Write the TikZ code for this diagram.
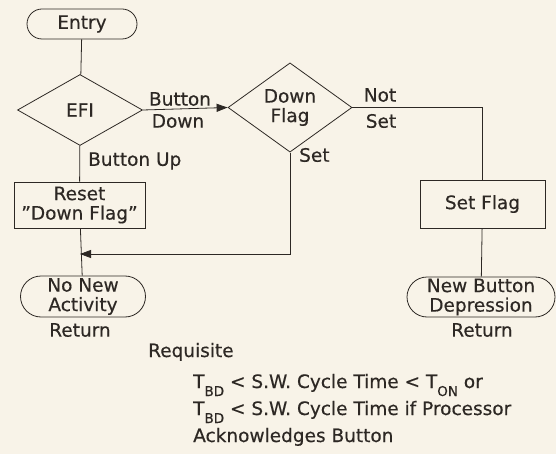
\documentclass[tikz,border=0pt]{standalone}
\usepackage{fontspec}
\setmainfont{DejaVu Sans}[FakeBold=0.4]
\usepackage{tikz}
\usetikzlibrary{positioning,arrows.meta,shapes.geometric,shapes.misc}
\definecolor{paper}{RGB}{248,243,232}
\definecolor{ink}{RGB}{45,40,36}
\newcommand{\bigtxt}{\fontsize{18.5}{19.5}\selectfont}
\newcommand{\tsub}[1]{T\raisebox{-8pt}{\fontsize{13.5}{13.5}\selectfont #1}}
\tikzset{
  term/.style={rounded rectangle, draw=ink, line width=0.8pt, fill=paper,
               align=center, inner sep=0pt, font=\bigtxt, text=ink},
  decision/.style={diamond, draw=ink, line width=0.8pt, fill=paper,
               align=center, inner sep=0pt, font=\bigtxt, text=ink},
  procbox/.style={rectangle, draw=ink, line width=0.8pt, fill=paper,
               align=center, inner sep=0pt, font=\bigtxt, text=ink},
  elabel/.style={font=\bigtxt, text=ink, inner sep=0pt},
  link/.style={ink, line width=0.8pt},
  arr/.style={-{Triangle[length=11pt,width=8pt]}},
}

\begin{document}
\begin{tikzpicture}[x=1pt,y=-1pt]
  % page
  \fill[paper] (0,0) rectangle (556,454);
  \useasboundingbox (0,0) rectangle (556,454);
  % blocks
  \node[term, minimum width=110pt, minimum height=30pt] (entry) at (82,24) {Entry};
  \node[decision, minimum width=125pt, minimum height=71pt] (efi) at (80,110) {EFI};
  \node[decision, minimum width=124pt, minimum height=70pt] (dflag) at (290,107.5) {Down\\Flag};
  \node[procbox, minimum width=131pt, minimum height=46pt] (reset) at (79.5,205) {Reset\\”Down Flag”};
  \node[procbox, minimum width=125pt, minimum height=48pt] (setflag) at (482.5,204) {Set Flag};
  \node[term, minimum width=125pt, minimum height=41pt] (nonew) at (83,296.5) {No New\\Activity};
  \node[term, minimum width=148pt, minimum height=40pt] (newbtn) at (481,297) {New Button\\Depression};
  \coordinate (merge) at (80,254);
  % connectors
  \draw[link] (entry) -- (efi);
  \draw[link, arr] (efi.east) -- (dflag.west);
  \draw[link] (efi) -- (reset);
  \draw[link] (reset) -- (nonew);
  \draw[link, arr] (dflag.south) |- (merge);
  \draw[link] (dflag.east) -| (setflag.north);
  \draw[link] (setflag) -- (newbtn);
  % edge labels
  \node[elabel] (lbtn) at (180,99) {Button};
  \node[elabel] (ldown) at (178,121) {Down};
  \node[elabel, anchor=west] (lup) at (88,161) {Button Up};
  \node[elabel, anchor=west] (lset) at (299,155) {Set};
  \node[elabel] (lnot) at (380,95) {Not};
  \node[elabel] (lnset) at (381,121) {Set};
  \node[elabel] (ret1) at (80,330) {Return};
  \node[elabel] (ret2) at (482,330) {Return};
  % requisite note
  \node[elabel, anchor=base west] (req) at (148,357) {Requisite};
  \node[elabel, anchor=base west] (req1) at (193,388) {\tsub{BD} < S.W. Cycle Time < \tsub{ON} or};
  \node[elabel, anchor=base west] (req2) at (193,415) {\tsub{BD} < S.W. Cycle Time if Processor};
  \node[elabel, anchor=base west] (req3) at (193,442) {Acknowledges Button};
\end{tikzpicture}
\end{document}
